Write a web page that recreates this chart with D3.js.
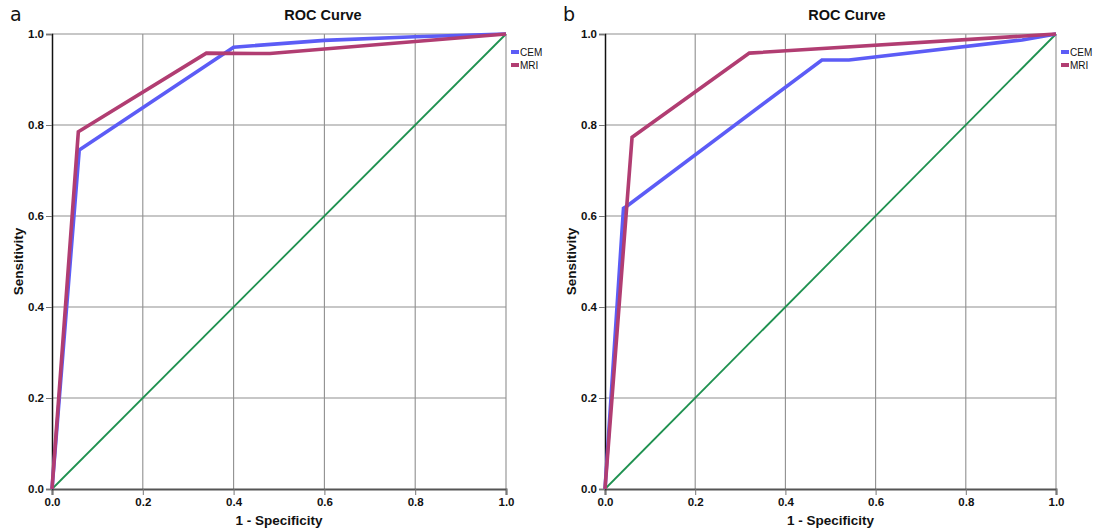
<!DOCTYPE html>
<meta charset="utf-8">
<style>
    body { margin: 0; background: #fff; }
    svg { display: block; font-family: Arial, "Liberation Sans", sans-serif; }
</style>
<svg id="chart" width="1094" height="531"></svg>
<script src="https://cdn.jsdelivr.net/npm/d3@7"></script>
<script>

    // ticks shared by both axes
    var ticks = [0, 0.2, 0.4, 0.6, 0.8, 1.0];
    var seriesNames = ["CEM", "MRI"];

    // panel a
    var cemA = [[0, 0], [0.06, 0.745], [0.40, 0.971], [0.60, 0.986], [0.80, 0.994], [1, 1]];
    var mriA = [[0, 0], [0.058, 0.785], [0.34, 0.958], [0.48, 0.957], [1, 1]];

    // panel b
    var cemB = [[0, 0], [0.041, 0.617], [0.049, 0.622], [0.481, 0.943], [0.541, 0.943], [0.925, 0.987], [1, 1]];
    var mriB = [[0, 0], [0.06, 0.773], [0.32, 0.958], [1, 1]];

    var colors = { CEM: "#5c5cf6", MRI: "#b13d72", ref: "#1f9150" };

    var svg = d3.select("#chart");

    function panel(opts) {
        var x = d3.scaleLinear().domain([0, 1]).range([opts.left, opts.right]);
        var y = d3.scaleLinear().domain([0, 1]).range([489, 34]);
        var g = svg.append("g");

        // grid
        g.append("g").selectAll("line")
            .data(ticks.slice(1))
            .enter().append("line")
            .attr("x1", function (d) { return x(d); })
            .attr("x2", function (d) { return x(d); })
            .attr("y1", y(0)).attr("y2", y(1))
            .attr("stroke", "#8f8f8f").attr("stroke-width", 1.1);
        g.append("g").selectAll("line")
            .data(ticks.slice(1))
            .enter().append("line")
            .attr("y1", function (d) { return y(d); })
            .attr("y2", function (d) { return y(d); })
            .attr("x1", x(0)).attr("x2", x(1))
            .attr("stroke", "#8f8f8f").attr("stroke-width", 1.1);

        // axes
        var xAxis = g.append("g")
            .attr("transform", "translate(0," + y(0) + ")")
            .call(d3.axisBottom(x).tickValues(ticks).tickFormat(d3.format(".1f")).tickSize(6).tickPadding(3));
        var yAxis = g.append("g")
            .attr("transform", "translate(" + x(0) + ",0)")
            .call(d3.axisLeft(y).tickValues(ticks).tickFormat(d3.format(".1f")).tickSize(6).tickPadding(2));
        xAxis.select(".domain").attr("stroke", "#555").attr("stroke-width", 2);
        yAxis.select(".domain").attr("stroke", "#111").attr("stroke-width", 1.5);
        g.selectAll(".tick line").attr("stroke", "#777");
        g.selectAll(".tick text")
            .attr("font-size", 11.5).attr("font-weight", "bold").attr("fill", "#111")
            .attr("font-family", "Arial, 'Liberation Sans', sans-serif");

        // reference diagonal
        var line = d3.line()
            .x(function (d) { return x(d[0]); })
            .y(function (d) { return y(d[1]); });
        g.append("path")
            .datum([[0, 0], [1, 1]])
            .attr("d", line)
            .attr("fill", "none")
            .attr("stroke", colors.ref)
            .attr("stroke-width", 1.8);

        // ROC curves
        g.append("path").datum(opts.cem).attr("d", line)
            .attr("fill", "none").attr("stroke", colors.CEM)
            .attr("stroke-width", 3.6).attr("stroke-linejoin", "miter");
        g.append("path").datum(opts.mri).attr("d", line)
            .attr("fill", "none").attr("stroke", colors.MRI)
            .attr("stroke-width", 3.6).attr("stroke-linejoin", "miter");

        // titles
        g.append("text")
            .attr("x", opts.titleX).attr("y", 20)
            .attr("text-anchor", "middle")
            .attr("font-size", 14.5).attr("font-weight", "bold").attr("fill", "#111")
            .text("ROC Curve");
        g.append("text")
            .attr("x", (x(0) + x(1)) / 2).attr("y", 525)
            .attr("text-anchor", "middle")
            .attr("font-size", 13.5).attr("font-weight", "bold").attr("fill", "#111")
            .text("1 - Specificity");
        g.append("text")
            .attr("transform", "translate(" + (opts.left - 29) + "," + (y(0.5)) + ")rotate(-90)")
            .attr("text-anchor", "middle")
            .attr("font-size", 13.5).attr("font-weight", "bold").attr("fill", "#111")
            .text("Sensitivity");
        g.append("text")
            .attr("x", opts.left - 42).attr("y", 21)
            .attr("font-size", 19).attr("fill", "#111")
            .attr("font-family", "'DejaVu Sans', sans-serif")
            .text(opts.label);

        // legend
        var legend = g.append("g").selectAll("g")
            .data(seriesNames)
            .enter().append("g")
            .attr("transform", function (d, i) { return "translate(" + (x(1) + 5) + "," + (52 + i * 13) + ")"; });
        legend.append("rect")
            .attr("y", -2).attr("width", 8).attr("height", 4)
            .attr("fill", function (d) { return colors[d]; });
        legend.append("text")
            .attr("x", 9).attr("dy", "0.35em")
            .attr("font-size", 10).attr("fill", "#111")
            .text(function (d) { return d; });
    }

    panel({ left: 52, right: 506, cem: cemA, mri: mriA, label: "a", titleX: 323 });
    panel({ left: 605, right: 1056, cem: cemB, mri: mriB, label: "b", titleX: 847 });
</script>
